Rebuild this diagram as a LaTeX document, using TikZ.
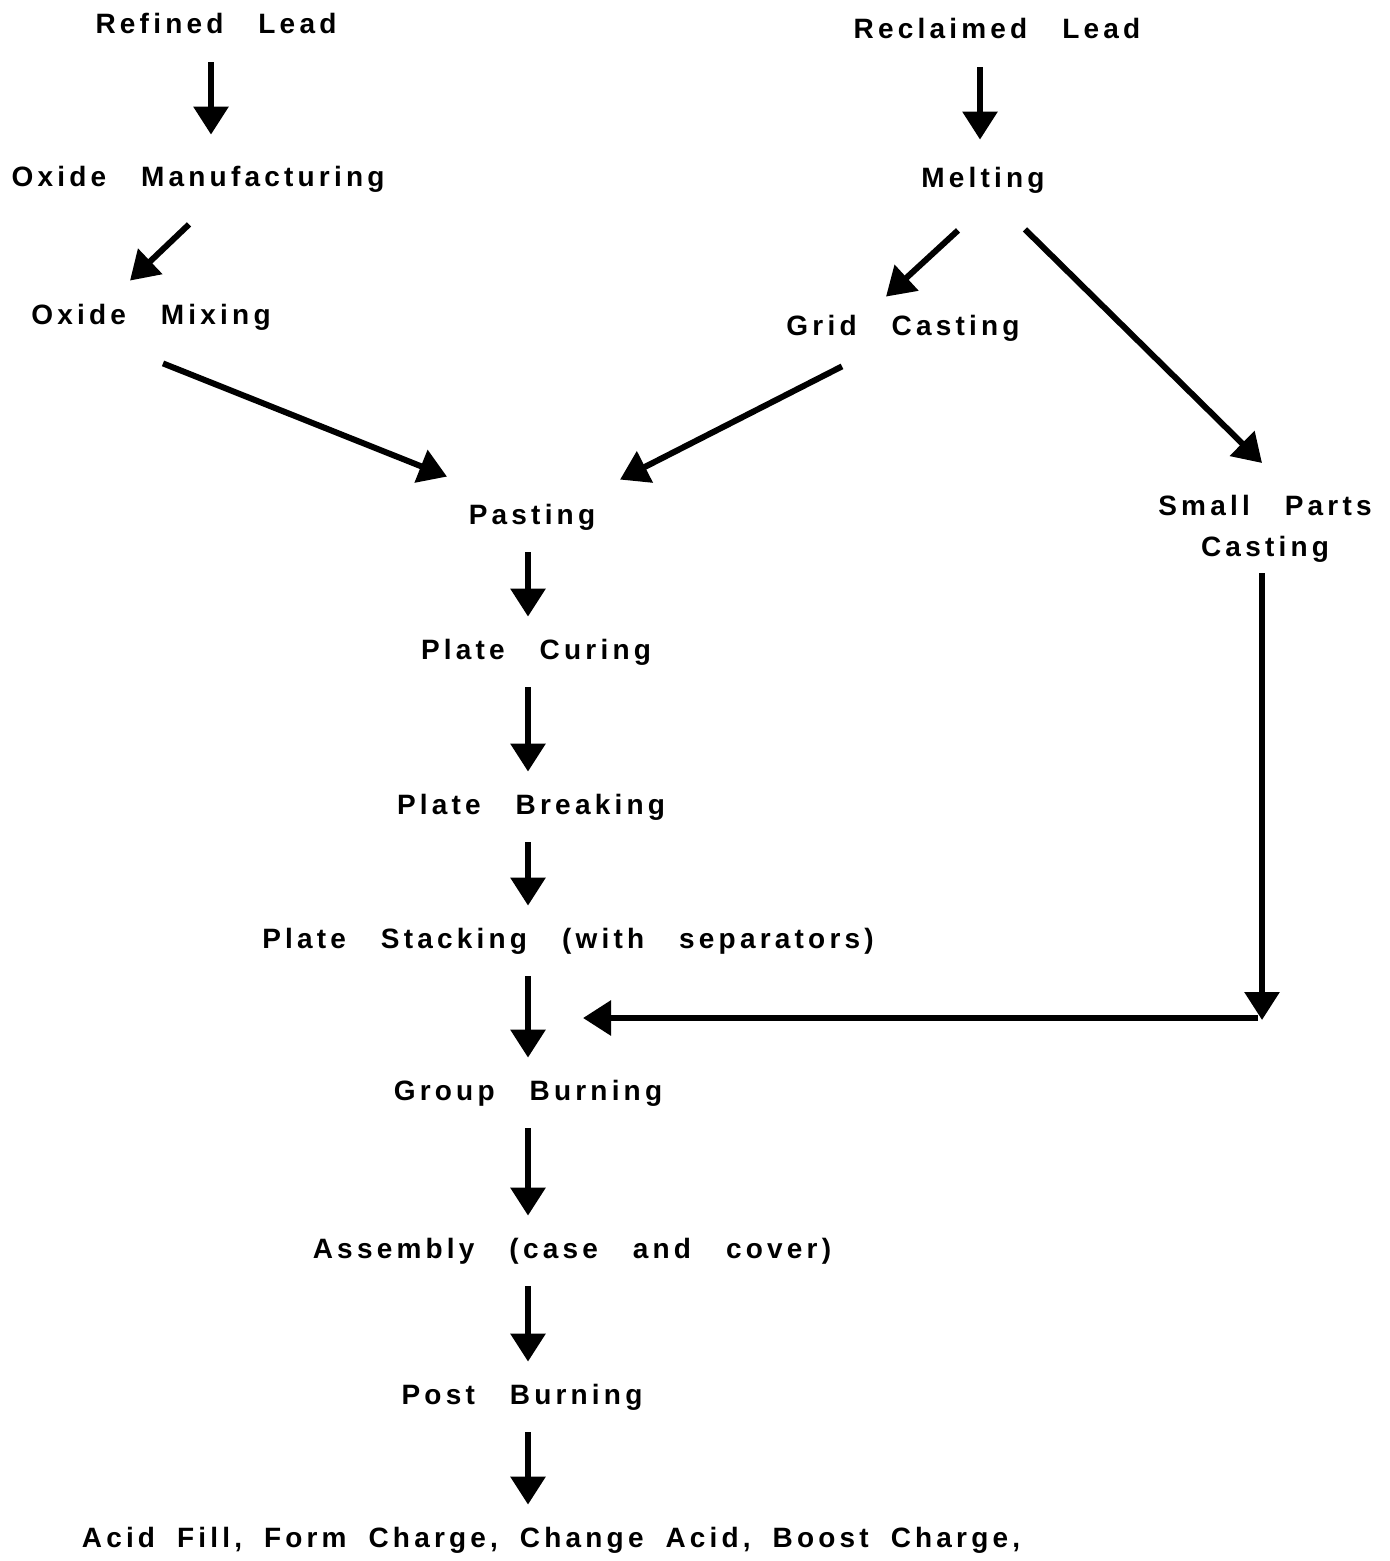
\documentclass[tikz,border=0pt]{standalone}
\usepackage{fontspec}
\newfontfamily\flowfont[LetterSpace=15]{Liberation Sans Bold}
\usepackage{tikz}
\usetikzlibrary{arrows.meta,calc}

% word gaps: wide in the step labels, narrower in the last line
{\flowfont\fontsize{14}{20.5}\selectfont\global\fontdimen2\font=17.5pt}
{\flowfont\fontsize{13.99}{20.5}\selectfont\global\fontdimen2\font=11pt}

\tikzset{
    step text/.style={font=\flowfont\fontsize{14}{20.5}\selectfont, inner sep=0pt, text height=10pt, text depth=3pt},
    flow/.style={-{Triangle[length=14pt,width=17pt]}, line width=3pt},
    gap/.style={shorten <=11pt, shorten >=11pt}
}

\begin{document}
\begin{tikzpicture}[x=0.5pt, y=-0.5pt]
    \useasboundingbox (0,0) rectangle (1389,1561);

    % left branch
    \node[step text] (refined) at (216,27) {Refined Lead};
    \node[step text] (oxman) at (198,180) {Oxide Manufacturing};
    \node[step text] (oxmix) at (151,318) {Oxide Mixing};

    % right branch
    \node[step text] (reclaimed) at (997,32) {Reclaimed Lead};
    \node[step text] (melting) at (983,181) {Melting};
    \node[step text] (grid) at (903,329) {Grid Casting};
    \node[font=\flowfont\fontsize{14}{20.5}\selectfont, inner sep=0pt, align=center, anchor=north] (small) at (1265,495) {Small Parts\\Casting};

    % main line
    \node[step text] (pasting) at (532,517) {Pasting};
    \node[step text] (curing) at (536,652) {Plate Curing};
    \node[step text] (breaking) at (531,807) {Plate Breaking};
    \node[step text] (stacking) at (568,941) {Plate Stacking (with separators)};
    \node[step text] (group) at (528,1093) {Group Burning};
    \node[step text] (assembly) at (572,1251) {Assembly (case and cover)};
    \node[step text] (post) at (522,1397) {Post Burning};
    \node[step text, font=\flowfont\fontsize{13.99}{20.5}\selectfont] (acid) at (551,1540) {Acid Fill, Form Charge, Change Acid, Boost Charge,};

    \coordinate (spine) at (528,0);
    \coordinate (join) at (1262,1020);
    \coordinate (merge) at (583,1018);

    \draw[flow] ($(refined.south)+(-5,22)$) -- ($(oxman.north)+(13,-32)$);
    \draw[flow] ($(reclaimed.south)+(-17,22)$) -- ($(melting.north)+(-3,-28)$);
    \draw[flow] ($(oxman.south)+(-9,31)$) -- ($(oxmix.north)+(-21,-24)$);
    \draw[flow] ($(melting.south)+(-25,36)$) -- ($(grid.north)+(-17,-19)$);
    \draw[flow] ($(melting.south)+(42,35)$) -- ($(small.north)+(-3,-32)$);
    \draw[flow] ($(oxmix.south)+(12,32)$) -- ($(pasting.north)+(-85,-27)$);
    \draw[flow] ($(grid.south)+(-61,24)$) -- ($(pasting.north)+(88,-24)$);

    \draw[flow, gap] (pasting.south -| spine) -- (curing.north -| spine);
    \draw[flow, gap] (curing.south -| spine) -- (breaking.north -| spine);
    \draw[flow, gap] (breaking.south -| spine) -- (stacking.north -| spine);
    \draw[flow, gap] (stacking.south -| spine) -- (group.north -| spine);
    \draw[flow, gap] (group.south -| spine) -- (assembly.north -| spine);
    \draw[flow, gap] (assembly.south -| spine) -- (post.north -| spine);
    \draw[flow, gap] (post.south -| spine) -- (acid.north -| spine);

    \draw[flow] ($(small.south)+(-3,10)$) -- (join);
    \draw[flow] ([xshift=-2pt]join |- merge) -- (merge);
\end{tikzpicture}
\end{document}
